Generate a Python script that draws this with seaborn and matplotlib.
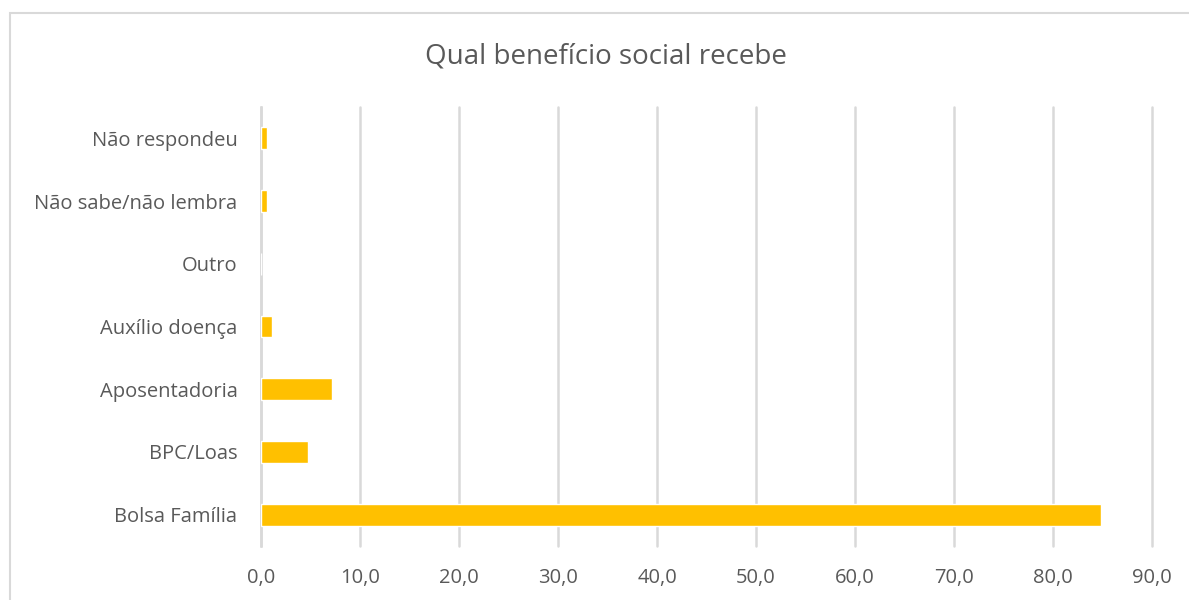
import numpy as np
import pandas as pd
import matplotlib
matplotlib.use("Agg")
import matplotlib.pyplot as plt
from matplotlib.patches import Rectangle
import seaborn as sns

categorias = ["Não respondeu", "Não sabe/não lembra", "Outro", "Auxílio doença",
              "Aposentadoria", "BPC/Loas", "Bolsa Família"]
percentuais = [0.6, 0.6, 0.0, 1.1, 7.2, 4.7, 84.8]
ticks_x = [0, 10, 20, 30, 40, 50, 60, 70, 80, 90]

df = pd.DataFrame({"categoria": categorias, "pct": percentuais})

sns.set_style("white")
plt.rcParams['font.family'] = ['Open Sans', 'DejaVu Sans']

fig = plt.figure(figsize=(11.89, 6.0), dpi=100)
ax = fig.add_axes([261 / 1189, 54 / 600, (1152 - 261) / 1189, (546 - 107) / 600])

sns.barplot(data=df, x="pct", y="categoria", order=categorias, orient="h",
            color="#FFC000", saturation=1, width=0.35, ax=ax, zorder=3)

ax.set_xlim(0, 90)
ax.set_ylim(6.5, -0.5)
ax.set_xticks(ticks_x)
ax.set_xticklabels([f"{t:.1f}".replace(".", ",") for t in ticks_x])
ax.grid(axis="x", color="#d9d9d9", linewidth=1.8, zorder=0)
for gl in ax.xaxis.get_gridlines():
    gl.set_clip_on(False)
ax.set_axisbelow(True)
for s in ["top", "right", "bottom"]:
    ax.spines[s].set_visible(False)
ax.spines["left"].set_color("#d9d9d9")
ax.spines["left"].set_linewidth(1.8)
ax.set_xlabel("")
ax.set_ylabel("")
ax.tick_params(axis="both", length=0, labelsize=14.5, labelcolor="#595959")
ax.tick_params(axis="x", pad=16)
ax.tick_params(axis="y", pad=17)

fig.text(606 / 1189, 1 - 56 / 600, "Qual benefício social recebe", ha="center", va="center",
         fontsize=20, color="#595959")

fig.patches.append(Rectangle((10 / 1189, -0.05), 1.1, 1 - 13 / 600 + 0.05,
                             transform=fig.transFigure, fill=False,
                             edgecolor="#d9d9d9", linewidth=1.5))

fig.savefig("out.png", dpi=100)
